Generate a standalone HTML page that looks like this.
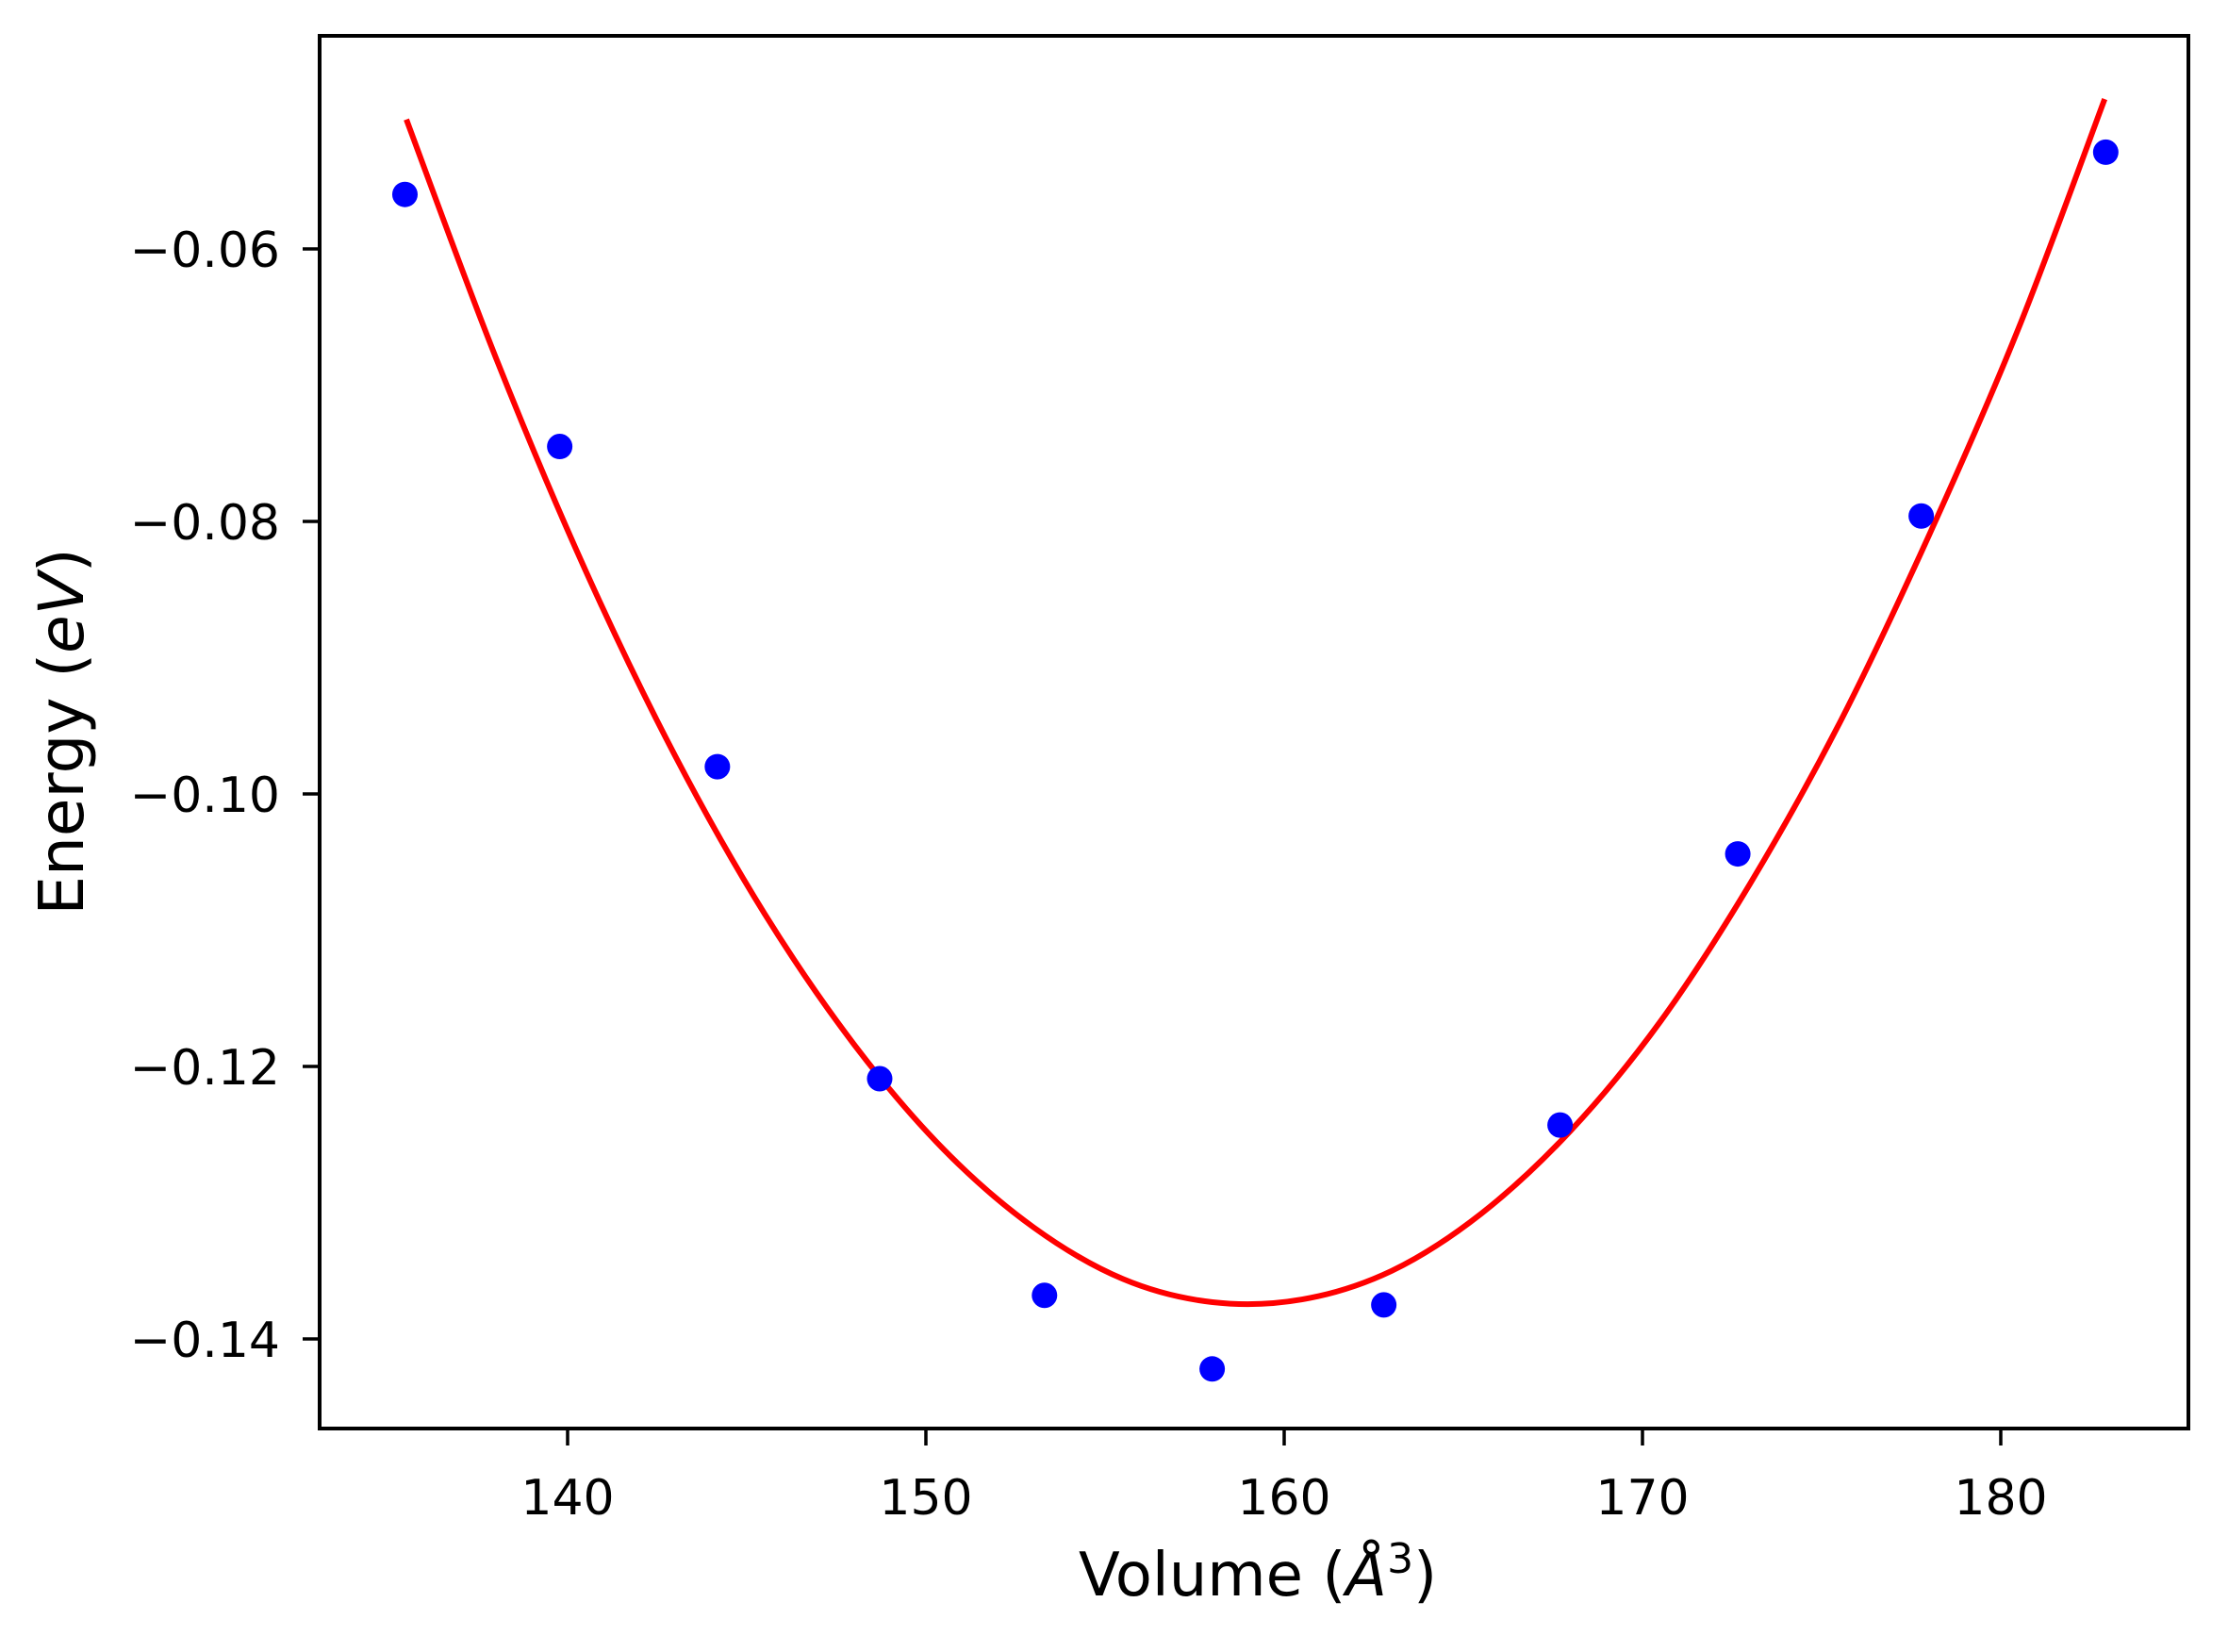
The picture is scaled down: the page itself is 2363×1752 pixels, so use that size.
<!DOCTYPE html>
<html><head><meta charset="utf-8"><style>
html,body{margin:0;padding:0;background:#fff}
svg text{font-family:"DejaVu Sans","Liberation Sans",sans-serif;fill:#000}
</style></head><body>
<svg id="chart" width="2363" height="1747" viewBox="0 0 2363 1747" xmlns="http://www.w3.org/2000/svg">
<rect width="2363" height="1747" fill="#fff"/>
<g id="plot"></g>
<g id="axes"></g>
<text x="1334" y="1692" font-size="64" text-anchor="middle">Volume (<tspan font-style="italic">Å</tspan><tspan font-size="44" dy="-24">3</tspan><tspan dy="24">)</tspan></text>
<text transform="translate(88,776) rotate(-90)" font-size="66" text-anchor="middle">Energy (<tspan font-style="italic">eV</tspan>)</text>
</svg>
<script>
const pointVolumes=[135.46,139.78,144.18,148.71,153.31,157.99,162.78,167.70,172.66,177.78,182.93];
const pointEnergies=[-0.0560,-0.0745,-0.0980,-0.1209,-0.1368,-0.1422,-0.1375,-0.1243,-0.1044,-0.0796,-0.0529];
const fitVolumes=[135.5,138,140.5,143,145.5,148,150.5,153,155.5,158,160.5,163,165.5,168,170.5,173,175.5,178,180.5,182.9];
const fitEnergies=[-0.0505,-0.0680,-0.0836,-0.0972,-0.1088,-0.1184,-0.1261,-0.1318,-0.1356,-0.1373,-0.1371,-0.1350,-0.1308,-0.1247,-0.1167,-0.1066,-0.0948,-0.0810,-0.0658,-0.0490];
const xTicks=[140,150,160,170,180];
const yTicks=[-0.06,-0.08,-0.10,-0.12,-0.14];
const yTickLabels=["\u22120.06","\u22120.08","\u22120.10","\u22120.12","\u22120.14"];

const L=339,R=2321,T=38,B=1515;
function sx(v){return 602+(v-140)*38;}
function sy(e){return 264+(-0.06-e)*14450;}
const NS="http://www.w3.org/2000/svg";
function mk(tag,attrs,parent){const el=document.createElementNS(NS,tag);for(const k in attrs)el.setAttribute(k,attrs[k]);parent.appendChild(el);return el;}
const plot=document.getElementById('plot'),axes=document.getElementById('axes');

const P=fitVolumes.map((v,i)=>[sx(v),sy(fitEnergies[i])]);
let d='M'+P[0][0].toFixed(1)+','+P[0][1].toFixed(1);
for(let i=0;i<P.length-1;i++){
 const p0=P[Math.max(0,i-1)],p1=P[i],p2=P[i+1],p3=P[Math.min(P.length-1,i+2)];
 const c1=[p1[0]+(p2[0]-p0[0])/6,p1[1]+(p2[1]-p0[1])/6];
 const c2=[p2[0]-(p3[0]-p1[0])/6,p2[1]-(p3[1]-p1[1])/6];
 d+=' C'+c1[0].toFixed(1)+','+c1[1].toFixed(1)+' '+c2[0].toFixed(1)+','+c2[1].toFixed(1)+' '+p2[0].toFixed(1)+','+p2[1].toFixed(1);
}
const line=mk('path',{d:d,fill:'none',stroke:'#ff0000','stroke-width':6},plot);



pointVolumes.forEach((v,i)=>{
 const c=mk('circle',{cx:sx(v),cy:sy(pointEnergies[i]),r:13.5,fill:'#0000ff'},plot);
 
 
});

const frame=mk('rect',{x:L,y:T,width:R-L,height:B-T,fill:'none',stroke:'#000','stroke-width':4},axes);



xTicks.forEach(v=>{
 const t=mk('line',{x1:sx(v),x2:sx(v),y1:B,y2:B+18,stroke:'#000','stroke-width':3.5},axes);
 
 
 const tx=mk('text',{x:sx(v),y:1606,'font-size':52,'text-anchor':'middle'},axes);
 tx.textContent=String(v);
 
 
});
yTicks.forEach((e,i)=>{
 const t=mk('line',{x1:L-18,x2:L,y1:sy(e),y2:sy(e),stroke:'#000','stroke-width':3.5},axes);
 
 
 const tx=mk('text',{x:297,y:sy(e)+19,'font-size':52,'text-anchor':'end'},axes);
 tx.textContent=yTickLabels[i];
 
 
});
</script>
</body></html>
